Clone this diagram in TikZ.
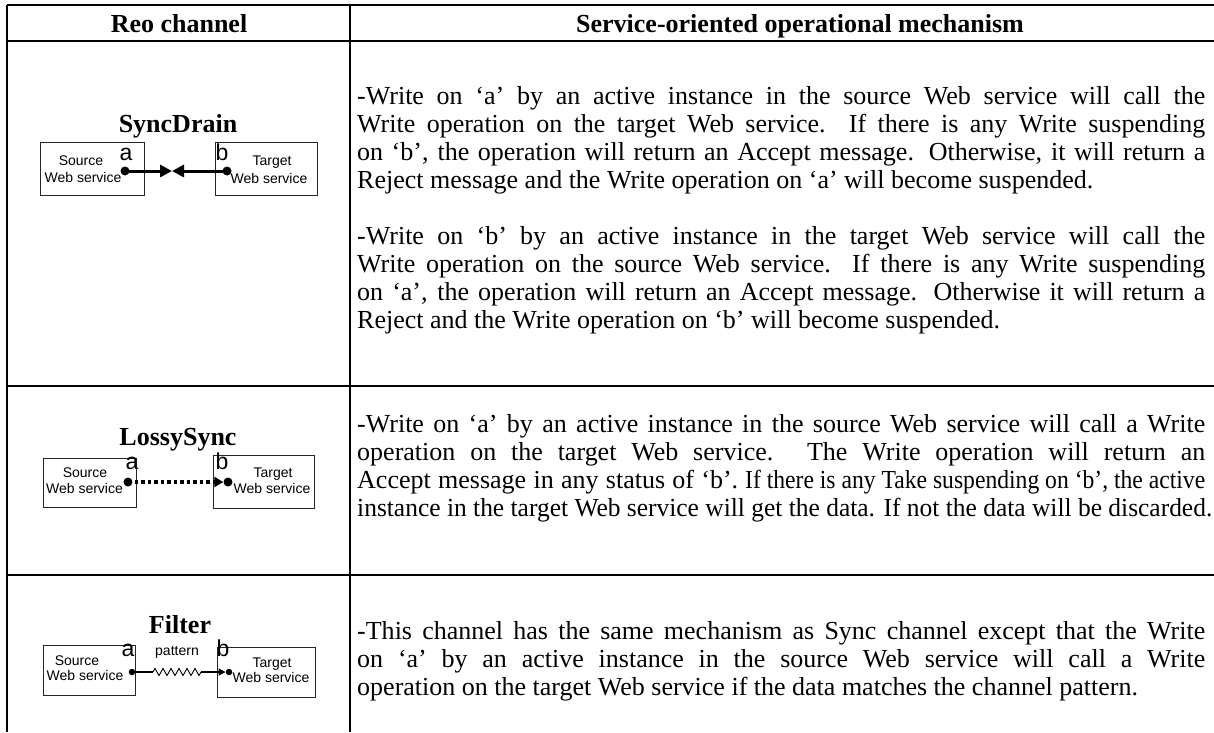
\documentclass[tikz,border=0pt]{standalone}
\usepackage{graphicx}
\usepackage{fontspec}
\setmainfont{Liberation Serif}
\setsansfont{Liberation Sans}
\usetikzlibrary{arrows.meta,decorations.pathmorphing}

\newcommand{\jline}[1]{\makebox[848pt][s]{#1}}

\tikzset{
  rule/.style={line width=2.2pt, black},
  hdr/.style={font=\fontsize{26}{28}\selectfont\bfseries, anchor=base, inner sep=0pt},
  body/.style={font=\fontsize{26}{28}\selectfont, anchor=base west, inner sep=0pt},
  chtitle/.style={font=\fontsize{26}{28}\selectfont\bfseries, anchor=base, inner sep=0pt},
  wsbox/.style={draw=black!85, line width=1pt, inner sep=0pt, rectangle},
  wslabel/.style={font=\sffamily\fontsize{14}{15}\selectfont, anchor=base, inner sep=0pt},
  port/.style={font=\sffamily\fontsize{23}{23}\selectfont, anchor=base, inner sep=0pt},
  bigdot/.style={circle, fill=black, inner sep=0pt, minimum size=9pt},
  smalldot/.style={circle, fill=black, inner sep=0pt, minimum size=6.5pt},
}

\begin{document}
\begin{tikzpicture}[x=1pt, y=-1pt]
\useasboundingbox (0,0) rectangle (1214,732);

% ---- table rules ----
\coordinate (tl) at (7,5);
\coordinate (tr) at (1214,5);
\coordinate (hl) at (7,41);
\coordinate (hr) at (1214,41);
\coordinate (r1l) at (7,386);
\coordinate (r1r) at (1214,386);
\coordinate (r2l) at (7,575);
\coordinate (r2r) at (1214,575);
\coordinate (bl) at (7,732);
\coordinate (dt) at (350,5);
\coordinate (db) at (350,732);
\draw[rule] (tl) -- (tr);
\draw[rule] (hl) -- (hr);
\draw[rule] (r1l) -- (r1r);
\draw[rule] (r2l) -- (r2r);
\draw[rule] (tl) -- (bl);
\draw[rule] (dt) -- (db);

% ---- header ----
\node[hdr] (h1) at (179,32) {Reo channel};
\node[hdr] (h2) at (800,32) {Service-oriented operational mechanism};

% ---- row 1 : SyncDrain ----
\node[chtitle] (t1) at (178,132) {SyncDrain};
\node[wsbox, minimum width=104pt, minimum height=53pt] (s1) at (92,168.5) {};
\node[wsbox, minimum width=102pt, minimum height=53pt] (g1) at (266,168.5) {};
\node[wslabel] (s1a) at (81,165) {Source};
\node[wslabel] (s1b) at (83,182) {Web service};
\node[wslabel] (g1a) at (272,165) {Target};
\node[wslabel] (g1b) at (269,183) {Web service};
\node[port] (pa1) at (126,160) {a};
\node[port] (pb1) at (222,160) {b};
\node[bigdot] (da1) at (125,171) {};
\node[bigdot] (db1) at (227,171) {};
\coordinate (m1) at (172,171);
\draw[line width=3pt, -{Triangle[length=12pt,width=12pt]}] (da1.center) -- (m1);
\draw[line width=3pt, -{Triangle[length=12pt,width=12pt]}] (db1.center) -- (m1);

\node[body] (p1l1) at (357,104) {\jline{-Write on ‘a’ by an active instance in the source Web service will call the}};
\node[body] (p1l2) at (357,132) {\jline{Write operation on the target Web service. If there is any Write suspending}};
\node[body] (p1l3) at (357,160) {\jline{on ‘b’, the operation will return an Accept message. Otherwise, it will return a}};
\node[body] (p1l4) at (357,188) {Reject message and the Write operation on ‘a’ will become suspended.};
\node[body] (p2l1) at (357,244) {\jline{-Write on ‘b’ by an active instance in the target Web service will call the}};
\node[body] (p2l2) at (357,272) {\jline{Write operation on the source Web service. If there is any Write suspending}};
\node[body] (p2l3) at (357,300) {\jline{on ‘a’, the operation will return an Accept message. Otherwise it will return a}};
\node[body] (p2l4) at (357,328) {Reject and the Write operation on ‘b’ will become suspended.};

% ---- row 2 : LossySync ----
\node[chtitle] (t2) at (178,445) {LossySync};
\node[wsbox, minimum width=93pt, minimum height=49pt] (s2) at (89.5,482.5) {};
\node[wsbox, minimum width=101pt, minimum height=53pt] (g2) at (263.5,481.5) {};
\node[wslabel] (s2a) at (85,477) {Source};
\node[wslabel] (s2b) at (84.5,493) {Web service};
\node[wslabel] (g2a) at (273,477) {Target};
\node[wslabel] (g2b) at (272,493) {Web service};
\node[port] (pa2) at (132,469) {a};
\node[port] (pb2) at (222,469) {b};
\node[bigdot] (da2) at (128,482) {};
\node[bigdot] (db2) at (228,482) {};
\draw[line width=3.5pt, dash pattern=on 3.5pt off 3pt, -{Triangle[length=9pt,width=10pt]}] (da2.center) -- (db2.west);

\node[body] (q1) at (357,432) {\jline{-Write on ‘a’ by an active instance in the source Web service will call a Write}};
\node[body] (q2) at (357,460) {\jline{operation on the target Web service. The Write operation will return an}};
\node[body] (q3) at (357,488) {\hbox to 848pt{\makebox[381pt][s]{Accept message in any status of ‘b’.}\hfill\resizebox{460pt}{\height}{If there is any Take suspending on ‘b’, the active}}};
\node[body] (q4) at (357,516) {\resizebox{855pt}{\height}{instance in the target Web service will get the data. If not the data will be discarded.}};

% ---- row 3 : Filter ----
\node[chtitle] (t3) at (180,633) {Filter};
\node[wsbox, minimum width=92pt, minimum height=50pt] (s3) at (89,670) {};
\node[wsbox, minimum width=98pt, minimum height=50pt] (g3) at (266,672) {};
\node[wslabel] (s3a) at (77,665) {Source};
\node[wslabel] (s3b) at (85,680) {Web service};
\node[wslabel] (g3a) at (272,667) {Target};
\node[wslabel] (g3b) at (271,682) {Web service};
\node[port] (pa3) at (128,656) {a};
\node[port] (pb3) at (223,656) {b};
\node[font=\sffamily\fontsize{14}{14}\selectfont, anchor=base, inner sep=0pt] (pat) at (177,655) {pattern};
\node[smalldot] (da3) at (132,672) {};
\node[smalldot] (db3) at (229,672) {};
\coordinate (za) at (153,672);
\coordinate (zb) at (201,672);
\draw[line width=1.2pt] (da3.center) -- (za);
\draw[line width=0.9pt, decorate, decoration={zigzag, segment length=8pt, amplitude=3.5pt}] (za) -- (zb);
\draw[line width=1.6pt, -{Triangle[length=7pt,width=7pt]}] (zb) -- (db3.west);

\node[body] (f1) at (357,639) {\jline{-This channel has the same mechanism as Sync channel except that the Write}};
\node[body] (f2) at (357,667) {\jline{on ‘a’ by an active instance in the source Web service will call a Write}};
\node[body] (f3) at (357,695) {operation on the target Web service if the data matches the channel pattern.};
\end{tikzpicture}
\end{document}
